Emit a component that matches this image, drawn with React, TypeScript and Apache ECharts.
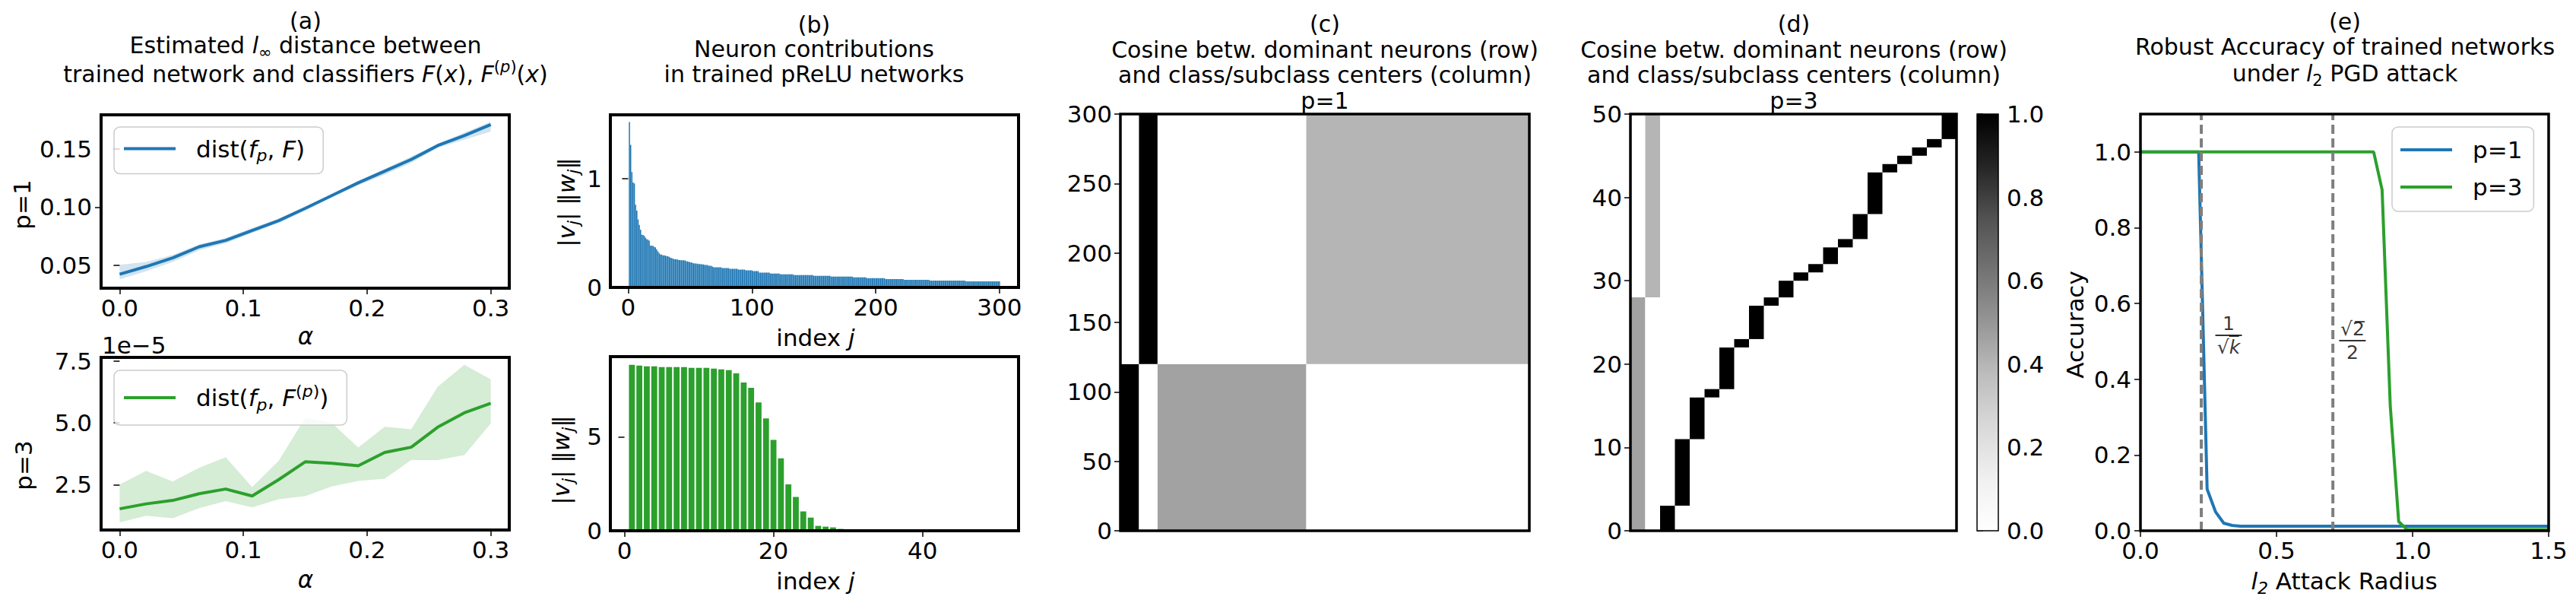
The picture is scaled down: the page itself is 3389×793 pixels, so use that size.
import React, { useEffect, useRef } from 'react';
import * as echarts from 'echarts';

const FONT = '"DejaVu Sans", "Liberation Sans", sans-serif';
const BLUE = '#1f77b4';
const GREEN = '#2ca02c';

// ---------- (a) estimated distance ----------
const alphaValues = [0, 0.0214, 0.0429, 0.0643, 0.0857, 0.1071, 0.1286, 0.15, 0.1714, 0.1929, 0.2143, 0.2357, 0.2571, 0.2786, 0.3];
const distP1Mean = [0.0424, 0.049, 0.0565, 0.066, 0.0715, 0.08, 0.0885, 0.099, 0.11, 0.121, 0.131, 0.141, 0.153, 0.1615, 0.171];
const distP1Low = [0.038, 0.045, 0.053, 0.063, 0.069, 0.078, 0.0865, 0.097, 0.1085, 0.119, 0.128, 0.138, 0.151, 0.158, 0.165];
const distP1High = [0.0505, 0.053, 0.059, 0.068, 0.0735, 0.082, 0.09, 0.1005, 0.111, 0.1225, 0.133, 0.1435, 0.1545, 0.164, 0.1735];
// values in units of 1e-5
const distP3Mean = [1.52, 1.72, 1.86, 2.13, 2.32, 2.04, 2.7, 3.42, 3.36, 3.26, 3.8, 4.01, 4.82, 5.4, 5.79];
const distP3Low = [0.97, 1.24, 1.14, 1.55, 1.83, 1.58, 1.91, 2.03, 2.42, 2.65, 2.74, 3.49, 3.49, 3.69, 4.97];
const distP3High = [2.5, 3.05, 2.62, 3.18, 3.61, 2.4, 3.46, 5.2, 5.0, 4.0, 4.84, 4.74, 6.45, 7.34, 6.76];
const distP1Ticks = [0.05, 0.15];
const distP1MidTick = [0.1];

// ---------- (b) neuron contributions ----------
const contribP1Head = [1.52, 1.31, 1.06, 0.965, 0.955, 0.76, 0.705, 0.625, 0.575, 0.53, 0.485, 0.482, 0.474, 0.457, 0.443, 0.439, 0.429, 0.385, 0.383, 0.383, 0.373, 0.368, 0.35, 0.331, 0.317, 0.303, 0.303, 0.296, 0.294, 0.294, 0.287, 0.287, 0.282, 0.275, 0.27, 0.266, 0.261, 0.259, 0.259, 0.256, 0.252, 0.252, 0.249, 0.249, 0.249, 0.249, 0.24, 0.24, 0.235, 0.231, 0.231, 0.226, 0.221, 0.221, 0.219, 0.219, 0.214, 0.214, 0.214, 0.212, 0.212];
// plateaus: [value, number of neurons]
const contribP1Tail: [number, number][] = [[0.206, 3], [0.199, 3], [0.192, 1], [0.185, 7], [0.178, 6], [0.171, 7], [0.164, 6], [0.157, 6], [0.15, 5], [0.136, 9], [0.128, 8], [0.121, 11], [0.114, 16], [0.107, 14], [0.1, 18], [0.093, 11], [0.085, 15], [0.077, 15], [0.07, 21], [0.063, 29], [0.056, 28]];
const contribP3 = [8.83, 8.79, 8.75, 8.75, 8.71, 8.71, 8.71, 8.71, 8.67, 8.67, 8.67, 8.63, 8.59, 8.55, 8.38, 7.89, 7.61, 6.83, 5.98, 4.84, 3.86, 2.47, 1.8, 1.03, 0.7, 0.26, 0.22, 0.18, 0.1, 0.06, 0.02, 0, 0, 0, 0, 0, 0, 0, 0, 0, 0, 0, 0, 0, 0, 0, 0, 0, 0, 0];

// ---------- (c)/(d) cosine matrices: [col0, col1, row0, row1, value] ----------
const cosineP1Blocks = [
  [0, 1, 0, 120, 1.0], [0, 1, 120, 300, 0],
  [1, 2, 0, 120, 0], [1, 2, 120, 300, 1.0],
  [2, 10, 0, 120, 0.46], [2, 10, 120, 300, 0],
  [10, 22, 0, 120, 0], [10, 22, 120, 300, 0.4],
];
const cosineP3Blocks = [
  [0, 1, 0, 28, 0.46], [0, 1, 28, 50, 0],
  [1, 2, 0, 28, 0], [1, 2, 28, 50, 0.4],
  [2, 3, 0, 3, 1], [3, 4, 3, 11, 1], [4, 5, 11, 16, 1], [5, 6, 16, 17, 1],
  [6, 7, 17, 22, 1], [7, 8, 22, 23, 1], [8, 9, 23, 27, 1], [9, 10, 27, 28, 1],
  [10, 11, 28, 30, 1], [11, 12, 30, 31, 1], [12, 13, 31, 32, 1], [13, 14, 32, 34, 1],
  [14, 15, 34, 35, 1], [15, 16, 35, 38, 1], [16, 17, 38, 43, 1], [17, 18, 43, 44, 1],
  [18, 19, 44, 45, 1], [19, 20, 45, 46, 1], [20, 21, 46, 47, 1], [21, 22, 47, 50, 1],
];
const GREYS = ['#ffffff', '#f0f0f0', '#d9d9d9', '#bdbdbd', '#969696', '#737373', '#525252', '#252525', '#000000'];

// ---------- (e) robust accuracy ----------
const accP1Radius = [0, 0.214, 0.245, 0.276, 0.306, 0.337, 0.367, 1.5];
const accP1 = [1.0, 1.0, 0.11, 0.05, 0.02, 0.014, 0.012, 0.012];
const accP3Radius = [0, 0.857, 0.888, 0.918, 0.949, 0.98, 1.5];
const accP3 = [1.0, 1.0, 0.9, 0.33, 0.024, 0.003, 0.003];
const boundLines = [0.2236, 0.7071];

function greys(v: number): string {
  const n = GREYS.length - 1;
  const t = Math.max(0, Math.min(1, v)) * n;
  const i = Math.min(n - 1, Math.floor(t));
  const f = t - i;
  const a = parseInt(GREYS[i].slice(1, 3), 16);
  const b = parseInt(GREYS[i + 1].slice(1, 3), 16);
  const c = Math.round(a + (b - a) * f);
  const h = c.toString(16).padStart(2, '0');
  return '#' + h + h + h;
}

const mathRich = (size: number, lh: number) => ({
  n: { fontFamily: FONT, fontSize: size, color: '#000', fill: '#000', lineHeight: lh },
  it: { fontFamily: FONT, fontSize: size, fontStyle: 'italic', color: '#000', fill: '#000', lineHeight: lh },
  sub: { fontFamily: FONT, fontSize: Math.round(size * 0.7), fontStyle: 'italic', color: '#000', fill: '#000', verticalAlign: 'bottom', lineHeight: Math.round(size * 0.7) },
  subn: { fontFamily: FONT, fontSize: Math.round(size * 0.7), color: '#000', fill: '#000', verticalAlign: 'bottom', lineHeight: Math.round(size * 0.7) },
  sup: { fontFamily: FONT, fontSize: Math.round(size * 0.7), fontStyle: 'italic', color: '#000', fill: '#000', verticalAlign: 'top', lineHeight: Math.round(size * 0.7) },
  supn: { fontFamily: FONT, fontSize: Math.round(size * 0.7), color: '#000', fill: '#000', verticalAlign: 'top', lineHeight: Math.round(size * 0.7) },
});

const titleLines = [
  { x: 402, y: 27, text: '{n|(a)}' },
  { x: 402, y: 59, text: '{n|Estimated }{it|l}{subn|∞}{n| distance between}' },
  { x: 402, y: 97, text: '{n|trained network and classifiers }{it|F}{n|(}{it|x}{n|), }{it|F}{supn|(}{sup|p}{supn|)}{n|(}{it|x}{n|)}' },
  { x: 1071, y: 32, text: '{n|(b)}' },
  { x: 1071, y: 64, text: '{n|Neuron contributions}' },
  { x: 1071, y: 97, text: '{n|in trained pReLU networks}' },
  { x: 1743, y: 31, text: '{n|(c)}' },
  { x: 1743, y: 65, text: '{n|Cosine betw. dominant neurons (row)}' },
  { x: 1743, y: 98, text: '{n|and class/subclass centers (column)}' },
  { x: 1743, y: 132, text: '{n|p=1}' },
  { x: 2360, y: 31, text: '{n|(d)}' },
  { x: 2360, y: 65, text: '{n|Cosine betw. dominant neurons (row)}' },
  { x: 2360, y: 98, text: '{n|and class/subclass centers (column)}' },
  { x: 2360, y: 132, text: '{n|p=3}' },
  { x: 3085, y: 28, text: '{n|(e)}' },
  { x: 3085, y: 61, text: '{n|Robust Accuracy of trained networks}' },
  { x: 3085, y: 96, text: '{n|under }{it|l}{subn|2}{n| PGD attack}' },
];

// axis titles: [x, y, rotated, text]
const axisTitles: [number, number, boolean, string][] = [
  [29, 269, true, '{n|p=1}'],
  [31, 612, true, '{n|p=3}'],
  [402, 442, false, '{it|α}'],
  [402, 762, false, '{it|α}'],
  [745, 266, true, '{n||}{it|v}{sub|j}{n|| ‖}{it|w}{sub|j}{n|‖}'],
  [738, 605, true, '{n||}{it|v}{sub|j}{n|| ‖}{it|w}{sub|j}{n|‖}'],
  [1073, 444, false, '{n|index }{it|j}'],
  [1073, 764, false, '{n|index }{it|j}'],
  [2730, 427, true, '{n|Accuracy}'],
  [3084, 764, false, '{it|l}{sub|2}{n| Attack Radius}'],
];

const labelStyle = { fontFamily: FONT, fontSize: 31, color: '#000' };
const tickStyle = { show: true, length: 8, lineStyle: { color: '#000', width: 1.5 } };

function axis(o: any) {
  return {
    type: 'value',
    gridIndex: o.grid,
    min: o.min,
    max: o.max,
    position: o.pos,
    show: o.show !== false,
    axisLine: { show: false },
    splitLine: { show: false },
    axisTick: o.ticks ? { ...tickStyle, customValues: o.ticks } : { show: false },
    axisLabel: o.ticks
      ? { ...labelStyle, customValues: o.ticks, formatter: o.fmt, margin: o.margin ?? 10, hideOverlap: false }
      : { show: false },
  };
}

function bandSeries(xs: number[], lo: number[], hi: number[], fill: string, idx: number) {
  return {
    type: 'custom',
    xAxisIndex: idx,
    yAxisIndex: idx,
    silent: true,
    z: 1,
    data: xs.map((x, i) => [x, lo[i], hi[i]]),
    encode: { x: 0, y: [1, 2] },
    renderItem: (params: any, api: any) => {
      if (params.dataIndex !== 0) return null;
      const top = xs.map((x, i) => api.coord([x, hi[i]]));
      const bot = xs.map((x, i) => api.coord([x, lo[i]])).reverse();
      return { type: 'polygon', shape: { points: top.concat(bot) }, style: { fill } };
    },
  };
}

function blockSeries(blocks: number[][], idx: number) {
  return {
    type: 'custom',
    xAxisIndex: idx,
    yAxisIndex: idx,
    silent: true,
    data: blocks,
    encode: { x: [0, 1], y: [2, 3] },
    renderItem: (_p: any, api: any) => {
      const p0 = api.coord([api.value(0), api.value(2)]);
      const p1 = api.coord([api.value(1), api.value(3)]);
      return {
        type: 'rect',
        shape: { x: p0[0], y: p1[1], width: p1[0] - p0[0], height: p0[1] - p1[1] },
        style: { fill: greys(api.value(4)) },
      };
    },
  };
}

function expandTail(tail: [number, number][]) {
  const out: number[] = [];
  tail.forEach(([v, c]) => { for (let k = 0; k < c; k++) out.push(v); });
  return out;
}

function buildOption(): any {
  const contribP1 = contribP1Head.concat(expandTail(contribP1Tail));

  const grids = [
    { left: 133, top: 151, width: 537, height: 228 },
    { left: 133, top: 470, width: 537, height: 227 },
    { left: 803, top: 151, width: 537, height: 227 },
    { left: 803, top: 469, width: 537, height: 229 },
    { left: 1474, top: 150, width: 538, height: 548 },
    { left: 2145, top: 150, width: 429, height: 548 },
    { left: 2601, top: 150, width: 28, height: 548 },
    { left: 2816, top: 150, width: 537, height: 548 },
  ].map((g, i) => ({
    ...g,
    show: true,
    z: 10,
    borderColor: '#000',
    borderWidth: i === 6 ? 1.5 : i < 4 ? 4 : 3.5,
    backgroundColor: 'transparent',
    containLabel: false,
  }));

  const f1 = (v: number) => Number(v).toFixed(1);
  const f2 = (v: number) => Number(v).toFixed(2);
  const f0 = (v: number) => String(Math.round(Number(v)));

  const xAxis = [
    axis({ grid: 0, min: -0.015, max: 0.315, ticks: [0, 0.1, 0.2, 0.3], fmt: f1 }),
    axis({ grid: 1, min: -0.015, max: 0.315, ticks: [0, 0.1, 0.2, 0.3], fmt: f1 }),
    axis({ grid: 2, min: -14.4, max: 315.4, ticks: [0, 100, 200, 300], fmt: f0 }),
    axis({ grid: 3, min: -1.89, max: 52.89, ticks: [0, 20, 40], fmt: f0 }),
    axis({ grid: 4, min: 0, max: 22, show: false }),
    axis({ grid: 5, min: 0, max: 22, show: false }),
    axis({ grid: 6, min: 0, max: 1, show: false }),
    axis({ grid: 7, min: 0, max: 1.5, ticks: [0, 0.5, 1.0, 1.5], fmt: f1 }),
  ];
  const yAxis = [
    axis({ grid: 0, min: 0.0304, max: 0.1794, pos: 'left', ticks: distP1Ticks, fmt: f2, margin: 12 }),
    axis({ grid: 1, min: 0.663, max: 7.643, ticks: [2.5, 5.0, 7.5], fmt: f1, margin: 12 }),
    axis({ grid: 2, min: 0, max: 1.586, ticks: [0, 1], fmt: f0, margin: 11 }),
    axis({ grid: 3, min: 0, max: 9.27, ticks: [0, 5], fmt: f0, margin: 11 }),
    axis({ grid: 4, min: 0, max: 300, ticks: [0, 50, 100, 150, 200, 250, 300], fmt: f0, margin: 11 }),
    axis({ grid: 5, min: 0, max: 50, ticks: [0, 10, 20, 30, 40, 50], fmt: f0, margin: 11 }),
    axis({ grid: 6, min: 0, max: 1, pos: 'right', ticks: [0, 0.2, 0.4, 0.6, 0.8, 1.0], fmt: f1, margin: 11 }),
    axis({ grid: 7, min: 0, max: 1.1, ticks: [0, 0.2, 0.4, 0.6, 0.8, 1.0], fmt: f1, margin: 12 }),
    // second left axis on grid 0 carrying the middle tick
    { ...axis({ grid: 0, min: 0.0304, max: 0.1794, pos: 'left', ticks: distP1MidTick, fmt: f2, margin: 12 }), offset: 0 },
  ];

  const legendCommon = {
    orient: 'vertical',
    icon: 'rect',
    itemWidth: 68,
    itemHeight: 4,
    selectedMode: false,
    borderColor: '#cccccc',
    borderWidth: 1.5,
    borderRadius: 8,
    backgroundColor: 'rgba(255,255,255,0.8)',
  };
  const legendText = { fontFamily: FONT, fontSize: 31, color: '#000', padding: [0, 0, 0, 22], rich: mathRich(31, 40) };

  const legendNames: Record<string, string> = {
    distP1: '{n|dist(}{it|f}{sub|p}{n|, }{it|F}{n|)}',
    distP3: '{n|dist(}{it|f}{sub|p}{n|, }{it|F}{supn|(}{sup|p}{supn|)}{n|)}',
  };

  const series: any[] = [
    bandSeries(alphaValues, distP1Low, distP1High, 'rgba(31,119,180,0.2)', 0),
    {
      name: 'distP1', type: 'line', xAxisIndex: 0, yAxisIndex: 0, symbol: 'none', color: BLUE,
      lineStyle: { width: 4, color: BLUE }, data: alphaValues.map((a, i) => [a, distP1Mean[i]]),
    },
    bandSeries(alphaValues, distP3Low, distP3High, 'rgba(44,160,44,0.2)', 1),
    {
      name: 'distP3', type: 'line', xAxisIndex: 1, yAxisIndex: 1, symbol: 'none', color: GREEN,
      lineStyle: { width: 4, color: GREEN }, data: alphaValues.map((a, i) => [a, distP3Mean[i]]),
    },
    {
      type: 'bar', xAxisIndex: 2, yAxisIndex: 2, barWidth: 1.5, itemStyle: { color: BLUE },
      data: contribP1.map((v, i) => [i + 1, v]),
    },
    {
      type: 'bar', xAxisIndex: 3, yAxisIndex: 3, barWidth: 7.8, itemStyle: { color: GREEN },
      data: contribP3.map((v, i) => [i + 1, v]),
    },
    blockSeries(cosineP1Blocks, 4),
    blockSeries(cosineP3Blocks, 5),
    {
      type: 'custom', xAxisIndex: 6, yAxisIndex: 6, silent: true,
      data: [[0, 1, 0, 1]], encode: { x: [0, 1], y: [2, 3] },
      renderItem: (_p: any, api: any) => {
        const p0 = api.coord([0, 0]);
        const p1 = api.coord([1, 1]);
        return {
          type: 'rect',
          shape: { x: p0[0], y: p1[1], width: p1[0] - p0[0], height: p0[1] - p1[1] },
          style: {
            fill: new echarts.graphic.LinearGradient(0, 1, 0, 0,
              GREYS.map((c, i) => ({ offset: i / (GREYS.length - 1), color: c }))),
          },
        };
      },
    },
    {
      name: 'p=1', type: 'line', xAxisIndex: 7, yAxisIndex: 7, symbol: 'none', color: BLUE,
      lineStyle: { width: 4, color: BLUE }, data: accP1Radius.map((r, i) => [r, accP1[i]]),
    },
    {
      name: 'p=3', type: 'line', xAxisIndex: 7, yAxisIndex: 7, symbol: 'none', color: GREEN,
      lineStyle: { width: 4, color: GREEN }, data: accP3Radius.map((r, i) => [r, accP3[i]]),
    },
    ...boundLines.map((x) => ({
      type: 'line', xAxisIndex: 7, yAxisIndex: 7, symbol: 'none', silent: true,
      lineStyle: { width: 4, color: '#7f7f7f', type: [12, 6] },
      data: [[x, 0], [x, 1.1]],
    })),
    {
      type: 'scatter', xAxisIndex: 7, yAxisIndex: 7, symbol: 'rect', symbolSize: [35, 2], silent: true,
      itemStyle: { color: '#000' },
      data: [
        { value: [0.324, 0.516], label: { formatter: '{n|1}\n{d|√}{dk|k\u0305}' } },
        { value: [0.779, 0.502], label: { formatter: '{d|√2\u0305}\n{n|2}' } },
      ],
      label: {
        show: true, position: 'inside', color: '#000',
        rich: {
          n: { fontFamily: FONT, fontSize: 25, lineHeight: 31, color: '#000' },
          d: { fontFamily: FONT, fontSize: 25, lineHeight: 31, color: '#000' },
          dk: { fontFamily: FONT, fontSize: 25, lineHeight: 31, color: '#000', fontStyle: 'italic' },
        },
      },
    },
  ];

  const graphic: any[] = titleLines.map((t) => ({
    type: 'text', x: t.x, y: t.y, silent: true,
    style: {
      text: t.text, align: 'center', verticalAlign: 'middle',
      fontFamily: FONT, fontSize: 30, fill: '#000', rich: mathRich(30, 40),
    },
  }));
  axisTitles.forEach(([x, y, rot, text]) => {
    graphic.push({
      type: 'text', x, y, rotation: rot ? Math.PI / 2 : 0, silent: true,
      style: {
        text, align: 'center', verticalAlign: 'middle',
        fontFamily: FONT, fontSize: 31, fill: '#000', rich: mathRich(31, 40),
      },
    });
  });
  graphic.push({
    type: 'text', x: 134, y: 454, silent: true,
    style: { text: '1e−5', align: 'left', verticalAlign: 'middle', fontFamily: FONT, fontSize: 31, fill: '#000' },
  });

  return {
    animation: false,
    backgroundColor: '#ffffff',
    textStyle: { fontFamily: FONT },
    grid: grids,
    xAxis,
    yAxis,
    legend: [
      { ...legendCommon, left: 150, top: 167, padding: [13, 24, 13, 13], data: ['distP1'], formatter: (n: string) => legendNames[n], textStyle: legendText },
      { ...legendCommon, left: 150, top: 487, padding: [16, 24, 16, 13], data: ['distP3'], formatter: (n: string) => legendNames[n], textStyle: legendText },
      { ...legendCommon, left: 3147, top: 167, padding: [10, 15, 12, 11], itemGap: 9, data: ['p=1', 'p=3'], textStyle: { fontFamily: FONT, fontSize: 31, color: '#000', padding: [0, 0, 0, 22], lineHeight: 40 } },
    ],
    series,
    graphic,
  };
}

export default function App() {
  const ref = useRef<HTMLDivElement>(null);
  useEffect(() => {
    if (!ref.current) return;
    const chart = echarts.init(ref.current, null, { renderer: 'svg' });
    chart.setOption(buildOption());
    return () => chart.dispose();
  }, []);
  return (
    <div
      ref={ref}
      style={{ position: 'fixed', left: 0, top: 0, width: 3389, height: 793, background: '#fff' }}
    />
  );
}
